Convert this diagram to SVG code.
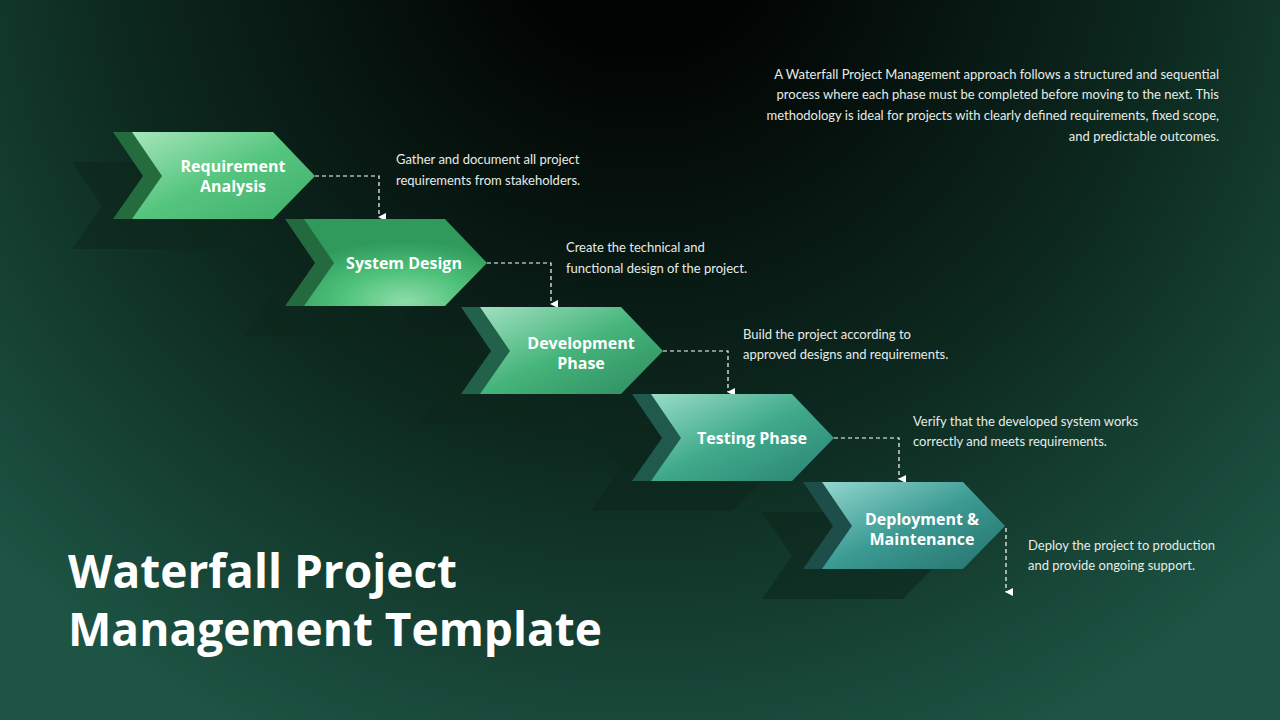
<svg xmlns="http://www.w3.org/2000/svg" width="1280" height="720" viewBox="0 0 1280 720">
<defs>
<radialGradient id="bg" cx="640" cy="-80" r="900" gradientUnits="userSpaceOnUse">
<stop offset="0.15" stop-color="#020403"/>
<stop offset="0.6" stop-color="#0d2a20"/>
<stop offset="1" stop-color="#1d5443"/>
</radialGradient>
<linearGradient id="g1" x1="0" y1="0" x2="1" y2="1"><stop offset="0" stop-color="#a6e6bb"/><stop offset="0.5" stop-color="#55c57e"/><stop offset="1" stop-color="#3fae6c"/></linearGradient>
<radialGradient id="g2" cx="0.55" cy="0.95" r="0.7"><stop offset="0" stop-color="#8fdcaa"/><stop offset="0.5" stop-color="#4fc27a"/><stop offset="1" stop-color="#2f9a5c"/></radialGradient>
<linearGradient id="g3" x1="0" y1="0" x2="1" y2="1"><stop offset="0" stop-color="#9fe0c0"/><stop offset="0.5" stop-color="#45b47a"/><stop offset="1" stop-color="#2d8a5f"/></linearGradient>
<linearGradient id="g4" x1="0" y1="0" x2="1" y2="1"><stop offset="0" stop-color="#98dcc6"/><stop offset="0.5" stop-color="#3fa98a"/><stop offset="1" stop-color="#2a8272"/></linearGradient>
<linearGradient id="g5" x1="0" y1="0" x2="1" y2="1"><stop offset="0" stop-color="#93d6cf"/><stop offset="0.5" stop-color="#3a9a92"/><stop offset="1" stop-color="#26716b"/></linearGradient>
<path id="chev" d="M0,0 H141 L183,44 L141,87 H0 L30,44 Z" stroke-linejoin="round"/>
<marker id="ar" markerWidth="8" markerHeight="8" refX="4" refY="7" orient="auto-start-reverse" markerUnits="userSpaceOnUse"><path d="M0,0 L8,0 L4,8 Z" fill="#ffffff"/></marker>
</defs>
<style>
.lbl{font-family:"Open Sans","DejaVu Sans",sans-serif;font-weight:700;font-size:16px;fill:#fff;text-anchor:middle}
.desc{font-family:Lato,"Liberation Sans",sans-serif;font-size:13px;fill:#e6ece8}
.shadow{fill:#0e261d;opacity:0.6}
.conn{fill:none;stroke:#fff;stroke-width:1.2;stroke-dasharray:4 3}
</style>
<rect width="1280" height="720" fill="url(#bg)"/>
<g id="connectors">
<path class="conn" d="M315,176 H379 V217" marker-end="url(#ar)"/>
<path class="conn" d="M487,263 H551 V304" marker-end="url(#ar)"/>
<path class="conn" d="M663,351 H728 V392" marker-end="url(#ar)"/>
<path class="conn" d="M834,438 H899 V479" marker-end="url(#ar)"/>
<path class="conn" d="M1006,528 V592" marker-end="url(#ar)"/>
</g>
<g id="node1" transform="translate(132,132)">
<use href="#chev" class="shadow" x="-60" y="30"/><use href="#chev" fill="#246b3e" x="-19"/><use href="#chev" fill="url(#g1)"/>
<text class="lbl" x="101" y="40">Requirement</text><text class="lbl" x="101" y="60">Analysis</text>
</g>
<g id="node2" transform="translate(304,219)">
<use href="#chev" class="shadow" x="-60" y="30"/><use href="#chev" fill="#236a3f" x="-19"/><use href="#chev" fill="url(#g2)"/>
<text class="lbl" x="100" y="50">System Design</text>
</g>
<g id="node3" transform="translate(480,307)">
<use href="#chev" class="shadow" x="-60" y="30"/><use href="#chev" fill="#22624a" x="-19"/><use href="#chev" fill="url(#g3)"/>
<text class="lbl" x="101" y="42">Development</text><text class="lbl" x="101" y="62">Phase</text>
</g>
<g id="node4" transform="translate(651,394)">
<use href="#chev" class="shadow" x="-60" y="30"/><use href="#chev" fill="#1f5a4c" x="-19"/><use href="#chev" fill="url(#g4)"/>
<text class="lbl" x="101" y="50">Testing Phase</text>
</g>
<g id="node5" transform="translate(822,482)">
<use href="#chev" class="shadow" x="-60" y="30"/><use href="#chev" fill="#1e4e4a" x="-19"/><use href="#chev" fill="url(#g5)"/>
<text class="lbl" x="100" y="43">Deployment &amp;</text><text class="lbl" x="100" y="63">Maintenance</text>
</g>
<g class="desc">
<text x="396" y="164">Gather and document all project</text><text x="396" y="185">requirements from stakeholders.</text>
<text x="566" y="252">Create the technical and</text><text x="566" y="273">functional design of the project.</text>
<text x="743" y="339">Build the project according to</text><text x="743" y="359">approved designs and requirements.</text>
<text x="913" y="426">Verify that the developed system works</text><text x="913" y="446">correctly and meets requirements.</text>
<text x="1028" y="550">Deploy the project to production</text><text x="1028" y="570">and provide ongoing support.</text>
</g>
<g class="desc" text-anchor="end">
<text x="1219" y="79">A Waterfall Project Management approach follows a structured and sequential</text>
<text x="1219" y="99">process where each phase must be completed before moving to the next. This</text>
<text x="1219" y="120">methodology is ideal for projects with clearly defined requirements, fixed scope,</text>
<text x="1219" y="141">and predictable outcomes.</text>
</g>
<g font-family="'Open Sans','DejaVu Sans',sans-serif" font-weight="700" font-size="46" fill="#fff">
<text x="68" y="588">Waterfall Project</text>
<text x="68" y="646">Management Template</text>
</g>
</svg>
